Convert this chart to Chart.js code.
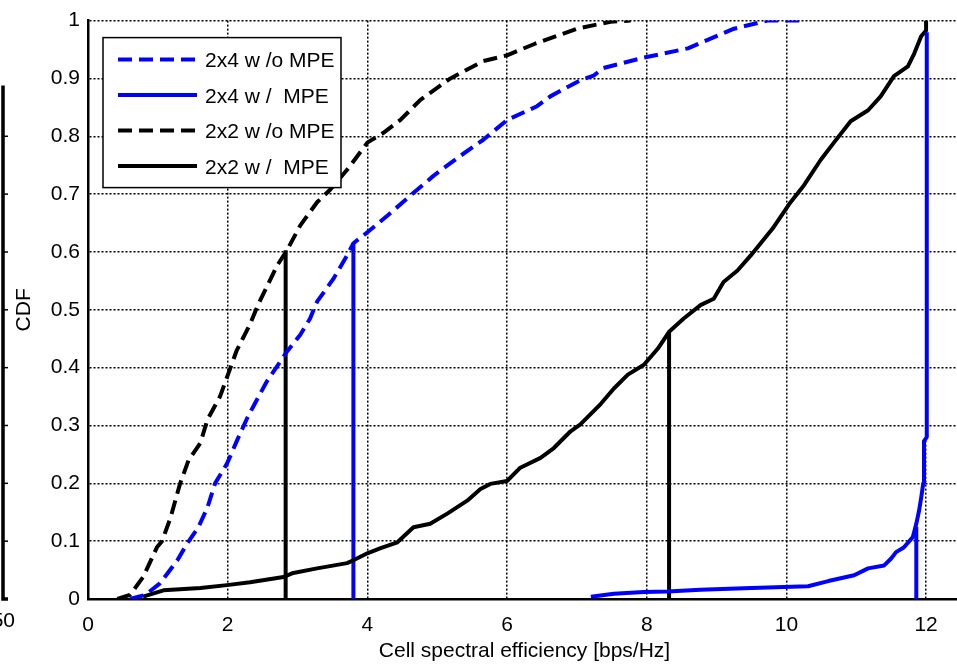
<!DOCTYPE html>
<html>
<head>
<meta charset="utf-8">
<script src="https://cdn.jsdelivr.net/npm/chart.js@4.4.1/dist/chart.umd.min.js"></script>
<style>
  html, body { margin: 0; padding: 0; background: #fff; overflow: hidden; }
  #wrap { width: 957px; height: 664px; overflow: hidden; }
</style>
</head>
<body>
<div id="wrap"><canvas id="cdf" width="961" height="664"></canvas></div>
<script>
/* =============== Data =============== */
const xTicks = [0, 2, 4, 6, 8, 10, 12];
const yTicks = [0, 0.1, 0.2, 0.3, 0.4, 0.5, 0.6, 0.7, 0.8, 0.9, 1];

const seriesNames = ["2x4 w /o MPE", "2x4 w /  MPE", "2x2 w /o MPE", "2x2 w /  MPE"];

// 2x4 without MPE
const se2x4NoMpe = [0.6, 0.82, 1.03, 1.28, 1.42, 1.58, 1.71, 1.82, 1.99, 2.13, 2.28, 2.39, 2.56, 2.75, 2.85, 3.04, 3.18, 3.28, 3.51, 3.71, 3.8, 4.0, 4.29, 4.62, 4.95, 5.33, 5.66, 6.0, 6.43, 6.62, 7.05, 7.24, 7.38, 7.96, 8.59, 9.25, 9.73, 10.22];
const cdf2x4NoMpe = [0, 0.007, 0.027, 0.067, 0.096, 0.124, 0.158, 0.2, 0.234, 0.273, 0.313, 0.338, 0.376, 0.41, 0.428, 0.457, 0.485, 0.514, 0.553, 0.594, 0.615, 0.634, 0.663, 0.698, 0.732, 0.766, 0.794, 0.828, 0.852, 0.869, 0.897, 0.905, 0.918, 0.936, 0.952, 0.986, 1.0, 1.0];

// 2x4 with MPE
const se2x4Mpe = [7.2, 7.53, 7.96, 8.3, 8.77, 9.5, 10.31, 10.6, 10.97, 11.17, 11.4, 11.5, 11.57, 11.68, 11.81, 11.86, 11.9, 11.93, 11.96, 11.97, 12.01, 12.01];
const cdf2x4Mpe = [0.004, 0.009, 0.012, 0.013, 0.016, 0.019, 0.022, 0.031, 0.041, 0.053, 0.058, 0.07, 0.081, 0.089, 0.107, 0.13, 0.153, 0.175, 0.2, 0.273, 0.28, 0.98];

// 2x2 without MPE
const se2x2NoMpe = [0.42, 0.6, 0.79, 0.99, 1.06, 1.18, 1.32, 1.44, 1.61, 1.71, 1.89, 2.01, 2.13, 2.32, 2.44, 2.71, 2.85, 3.04, 3.28, 3.47, 3.71, 4.0, 4.23, 4.47, 4.76, 5.19, 5.66, 6.0, 6.4, 7.0, 7.48, 7.77];
const cdf2x2NoMpe = [0, 0.007, 0.038, 0.09, 0.1, 0.14, 0.2, 0.24, 0.27, 0.31, 0.35, 0.39, 0.43, 0.475, 0.51, 0.577, 0.603, 0.646, 0.686, 0.708, 0.742, 0.789, 0.806, 0.828, 0.863, 0.9, 0.93, 0.94, 0.96, 0.986, 0.998, 1.0];

// 2x2 with MPE
const se2x2Mpe = [0.79, 1.08, 1.61, 1.99, 2.32, 2.8, 2.94, 3.28, 3.71, 3.8, 4.0, 4.19, 4.43, 4.66, 4.9, 5.15, 5.43, 5.62, 5.76, 6.0, 6.19, 6.48, 6.67, 6.91, 7.05, 7.34, 7.53, 7.73, 7.96, 8.16, 8.32, 8.53, 8.77, 8.96, 9.1, 9.3, 9.49, 9.8, 10.06, 10.25, 10.49, 10.68, 10.92, 11.17, 11.35, 11.54, 11.74, 11.83, 11.93, 12.0, 12.0];
const cdf2x2Mpe = [0.004, 0.015, 0.019, 0.024, 0.029, 0.038, 0.045, 0.053, 0.062, 0.067, 0.079, 0.088, 0.098, 0.124, 0.13, 0.148, 0.17, 0.19, 0.199, 0.204, 0.227, 0.244, 0.261, 0.29, 0.302, 0.337, 0.364, 0.388, 0.405, 0.433, 0.462, 0.485, 0.508, 0.519, 0.548, 0.568, 0.594, 0.64, 0.686, 0.715, 0.759, 0.789, 0.826, 0.845, 0.869, 0.904, 0.921, 0.943, 0.973, 0.983, 1.0];

// vertical marker lines (mean values), one per series, same order as seriesNames
const meanSe = [3.8, 11.86, 2.83, 8.32];
const meanCdf = [0.615, 0.125, 0.603, 0.462];

/* =============== Helpers =============== */
const FONT = "'Liberation Sans', Arial, Helvetica, sans-serif";
const BLUE = "#0000ff";
const BLACK = "#000000";
const LW = 4;

const toPoints = (xs, ys) => xs.map((x, i) => ({ x, y: ys[i] }));

const styles = [
  { color: BLUE, dash: [14, 7] },
  { color: BLUE, dash: [] },
  { color: BLACK, dash: [14, 7] },
  { color: BLACK, dash: [] }
];
const curves = [
  toPoints(se2x4NoMpe, cdf2x4NoMpe),
  toPoints(se2x4Mpe, cdf2x4Mpe),
  toPoints(se2x2NoMpe, cdf2x2NoMpe),
  toPoints(se2x2Mpe, cdf2x2Mpe)
];

const datasets = [];
curves.forEach((pts, i) => {
  datasets.push({
    label: seriesNames[i],
    data: pts,
    showLine: true,
    borderColor: styles[i].color,
    borderWidth: LW,
    borderDash: styles[i].dash,
    borderJoinStyle: "round",
    pointRadius: 0,
    inLegend: true
  });
});
meanSe.forEach((x, i) => {
  datasets.push({
    label: "mean " + seriesNames[i],
    data: [{ x, y: 0 }, { x, y: meanCdf[i] }],
    showLine: true,
    borderColor: styles[i].color,
    borderWidth: LW,
    pointRadius: 0,
    inLegend: false
  });
});

/* =============== Boxed legend inside the axes =============== */
const boxLegend = {
  id: "boxLegend",
  afterDraw(chart) {
    const { ctx, chartArea } = chart;
    const x0 = chartArea.left + 15, y0 = chartArea.top + 17;
    const w = 238, h = 150;
    ctx.save();
    ctx.fillStyle = "#fff";
    ctx.fillRect(x0, y0, w, h);
    ctx.strokeStyle = "#000";
    ctx.lineWidth = 1.5;
    ctx.strokeRect(x0, y0, w, h);

    const items = chart.data.datasets.filter(d => d.inLegend);
    items.forEach((d, i) => {
      const cy = y0 + 22 + i * 35.5;
      ctx.beginPath();
      ctx.setLineDash(d.borderDash || []);
      ctx.strokeStyle = d.borderColor;
      ctx.lineWidth = LW;
      ctx.moveTo(x0 + 15, cy);
      ctx.lineTo(x0 + 94, cy);
      ctx.stroke();
      ctx.setLineDash([]);
      ctx.fillStyle = "#000";
      ctx.font = "21px " + FONT;
      ctx.textBaseline = "middle";
      ctx.textAlign = "left";
      ctx.fillText(d.label, x0 + 102, cy + 2);
    });
    ctx.restore();
  }
};

/* =============== Piece of the neighbouring panel on the left =============== */
const leftEdge = {
  id: "leftEdge",
  afterDraw(chart) {
    const { ctx, chartArea } = chart;
    const y = chart.scales.y;
    ctx.save();
    ctx.strokeStyle = "#000";
    ctx.lineWidth = 3.5;
    ctx.beginPath();
    ctx.moveTo(3, chartArea.top + 65);
    ctx.lineTo(3, chartArea.bottom);
    ctx.lineTo(8, chartArea.bottom);
    ctx.stroke();
    ctx.lineWidth = 1.5;
    yTicks.slice(1, 10).forEach(v => {
      const py = y.getPixelForValue(v);
      if (py < chartArea.top + 65) return;
      ctx.beginPath();
      ctx.moveTo(4, py);
      ctx.lineTo(8, py);
      ctx.stroke();
    });
    ctx.fillStyle = "#000";
    ctx.font = "21px " + FONT;
    ctx.textAlign = "right";
    ctx.textBaseline = "middle";
    ctx.fillText("50", 15, chartArea.bottom + 22);
    ctx.restore();
  }
};

/* =============== Chart =============== */
new Chart(document.getElementById("cdf"), {
  type: "scatter",
  data: { datasets },
  options: {
    responsive: false,
    animation: false,
    devicePixelRatio: 1,
    layout: { padding: { top: 16, right: 0, bottom: 0, left: 0 } },
    plugins: { legend: { display: false }, tooltip: { enabled: false } },
    scales: {
      x: {
        type: "linear",
        min: 0,
        max: 12.5,
        afterFit: (s) => { s.height = 65; },
        afterBuildTicks: (s) => { s.ticks = xTicks.map(v => ({ value: v })); },
        ticks: {
          includeBounds: false,
          maxRotation: 0,
          padding: 14,
          color: "#000",
          font: { family: FONT, size: 21 },
          callback: (v) => String(v)
        },
        grid: { color: "#000", lineWidth: 1.5, drawTicks: false },
        border: { display: true, color: "#000", width: 2.5, dash: [2, 2] },
        title: {
          display: true,
          text: "Cell spectral efficiency [bps/Hz]",
          color: "#000",
          font: { family: FONT, size: 21 },
          padding: { top: 0, bottom: 0 }
        }
      },
      y: {
        type: "linear",
        min: 0,
        max: 1,
        afterFit: (s) => { s.width = 88; },
        afterBuildTicks: (s) => { s.ticks = yTicks.map(v => ({ value: v })); },
        ticks: {
          padding: 8,
          color: "#000",
          font: { family: FONT, size: 21 },
          callback: (v) => String(v)
        },
        grid: { color: "#000", lineWidth: 1.5, drawTicks: false },
        border: { display: true, color: "#000", width: 2.5, dash: [2, 2] },
        title: {
          display: true,
          text: "CDF",
          color: "#000",
          font: { family: FONT, size: 21 },
          padding: { top: 12, bottom: 0 }
        }
      }
    }
  },
  plugins: [boxLegend, leftEdge]
});
</script>
</body>
</html>
